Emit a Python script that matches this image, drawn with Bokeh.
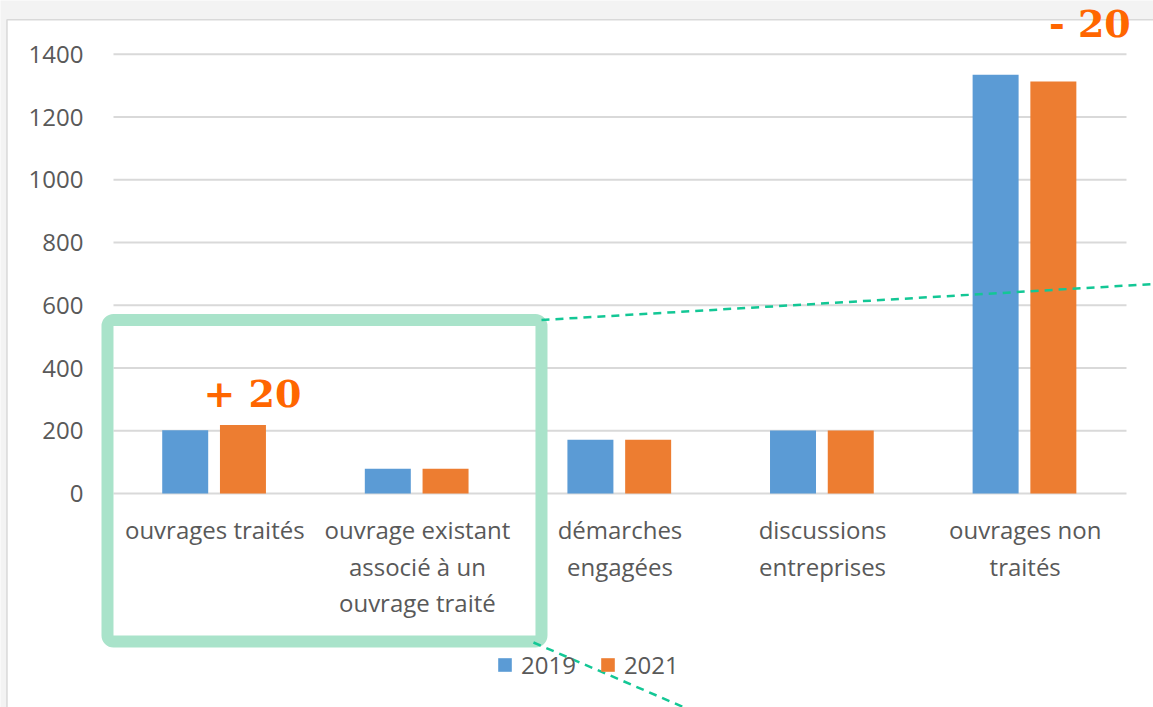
from bokeh.plotting import figure
from bokeh.models import (Range1d, FixedTicker, BoxAnnotation, Arrow,
                          Label, Legend, LegendItem, ColumnDataSource)
from bokeh.transform import dodge
from bokeh.embed import file_html
from bokeh.resources import INLINE

# ---- data ----
categories = [
    "ouvrages traités",
    "ouvrage existant\nassocié à un\nouvrage traité",
    "démarches\nengagées",
    "discussions\nentreprises",
    "ouvrages non\ntraités",
]
series_names = ["2019", "2021"]
values_2019 = [202, 79, 171, 201, 1335]
values_2021 = [218, 79, 171, 201, 1313]
y_ticks = [0, 200, 400, 600, 800, 1000, 1200, 1400]
delta_labels = ["+ 20", "- 20"]
delta_index = [0, 4]

BLUE = "#5b9bd5"
ORANGE = "#ed7d31"
TXT = "#595959"
GRID = "#d9d9d9"
GREEN_BOX = "#a9e3ca"
TEAL = "#13c795"
DELTA = "#ff6600"
FONT = "Open Sans"

x_pos = [i + 0.5 for i in range(len(categories))]
src = ColumnDataSource(dict(x=x_pos, v2019=values_2019, v2021=values_2021))

W, H = 1153, 707
p = figure(
    x_range=Range1d(-0.5577, 5.1333),
    y_range=Range1d(-682.2, 1571.6),
    width=W, height=H,
    output_backend="svg", toolbar_location=None,
    min_border=0, min_border_left=0, min_border_right=0,
    min_border_top=0, min_border_bottom=0,
)
p.outline_line_color = None
p.background_fill_color = "#f3f3f3"
p.border_fill_color = "#f3f3f3"

# white chart panel of the slide
p.add_layout(BoxAnnotation(left=-0.5257, right=6, top=1510.5, bottom=-900,
                           fill_color="white", fill_alpha=1,
                           line_color=GRID, line_alpha=1, line_width=1.5,
                           level="underlay"))

# gridlines (0..1400) across the category span
p.segment(x0=0, x1=len(categories), y0=y_ticks, y1=y_ticks,
          line_color=GRID, line_width=2)

off_a, off_b, bw = -0.146, 0.139, 0.227
r1 = p.vbar(x=dodge("x", off_a), top="v2019", width=bw,
            source=src, fill_color=BLUE, line_color=None)
r2 = p.vbar(x=dodge("x", off_b), top="v2021", width=bw,
            source=src, fill_color=ORANGE, line_color=None)

# axes
p.xgrid.grid_line_color = None
p.ygrid.grid_line_color = None

p.yaxis.fixed_location = 0
p.yaxis.ticker = FixedTicker(ticks=y_ticks)
p.yaxis.axis_line_color = None
p.yaxis.major_tick_line_color = None
p.yaxis.minor_tick_line_color = None
p.yaxis.major_tick_out = 0
p.yaxis.major_tick_in = 0
p.yaxis.major_label_standoff = 30
p.yaxis.major_label_text_font = FONT
p.yaxis.major_label_text_font_size = "24px"
p.yaxis.major_label_text_color = TXT

p.xaxis.fixed_location = 0
p.xaxis.ticker = FixedTicker(ticks=x_pos)
p.xaxis.major_label_overrides = {x: c for x, c in zip(x_pos, categories)}
p.xaxis.axis_line_color = None
p.xaxis.major_tick_line_color = None
p.xaxis.minor_tick_line_color = None
p.xaxis.major_tick_out = 0
p.xaxis.major_tick_in = 0
p.xaxis.major_label_standoff = 20
p.xaxis.major_label_text_font = FONT
p.xaxis.major_label_text_font_size = "24px"
p.xaxis.major_label_text_color = TXT
p.xaxis.major_label_text_line_height = 1.1
p.xaxis.major_label_orientation = "horizontal"

# delta labels
for txt, i in zip(delta_labels, delta_index):
    dy = 101 if i == 0 else 185
    dx = 0.047 if i == 0 else 0.18
    p.add_layout(Label(x=x_pos[i] + off_b + dx, y=values_2021[i] + dy, text=txt,
                       text_font="DejaVu Serif", text_font_style="bold",
                       text_font_size="38px", text_color=DELTA,
                       text_align="center", text_baseline="middle"))

# highlight box and zoom lines
p.add_layout(BoxAnnotation(left=-0.0296, right=2.1125, top=553.1, bottom=-471.8,
                           fill_alpha=0, line_color=GREEN_BOX, line_alpha=1,
                           line_width=12, border_radius=6))
p.add_layout(Arrow(end=None, x_start=2.1125, y_start=553.1, x_end=5.1333, y_end=667.8,
                   line_color=TEAL, line_width=2.5, line_dash="8 6"))
p.add_layout(Arrow(end=None, x_start=2.073, y_start=-475, x_end=2.818, y_end=-682.2,
                   line_color=TEAL, line_width=2.5, line_dash="8 6"))

legend = Legend(items=[LegendItem(label=series_names[0], renderers=[r1]),
                       LegendItem(label=series_names[1], renderers=[r2])],
                location=(496, 26), orientation="horizontal",
                background_fill_alpha=0, border_line_color=None,
                padding=0, margin=0, spacing=23, label_standoff=8,
                glyph_width=17, glyph_height=17,
                label_text_font=FONT, label_text_font_size="24px",
                label_text_color=TXT)
p.add_layout(legend)

open("out.html", "w").write(file_html(p, INLINE))
